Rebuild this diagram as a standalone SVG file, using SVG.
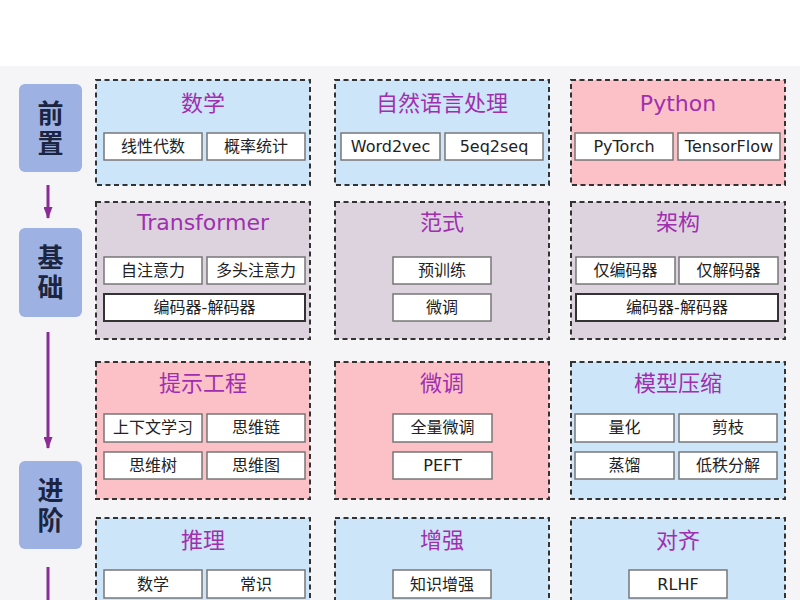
<svg xmlns="http://www.w3.org/2000/svg" width="800" height="600" viewBox="0 0 800 600">
<defs>
<style>
.card{stroke:#333;stroke-width:2;stroke-dasharray:5 3.5}
.blue{fill:#cde5f8}
.pink{fill:#fbc1c7}
.mauve{fill:#ddd3de}
.stage{fill:#9db2e2}
.st{font-family:"Noto Sans CJK SC",sans-serif;font-weight:bold;font-size:26px;fill:#1b2440;text-anchor:middle;writing-mode:vertical-rl;letter-spacing:4px}
.title{font-family:"DejaVu Sans","Noto Sans CJK SC",sans-serif;font-size:22px;fill:#a02fb0;text-anchor:middle}
.item{fill:#fff;stroke:#777;stroke-width:1.5}
.item2{fill:#fff;stroke:#333;stroke-width:2}
.it{font-family:"DejaVu Sans","Noto Sans CJK SC",sans-serif;font-size:16px;fill:#222;text-anchor:middle}
.arr{stroke:#8a2c95;stroke-width:3;fill:none}
</style>
<marker id="ah" viewBox="0 0 12 9" refX="11" refY="4.5" markerWidth="12" markerHeight="9" markerUnits="userSpaceOnUse" orient="auto">
<path d="M0,0 L12,4.5 L0,9 z" fill="#8a2c95"/>
</marker>
</defs>
<rect x="0" y="0" width="800" height="600" fill="#ffffff"/>
<rect x="0" y="66" width="800" height="534" fill="#f5f5f7"/>

<g id="connectors">
<line class="arr" x1="48" y1="185" x2="48" y2="218" marker-end="url(#ah)"/>
<line class="arr" x1="48" y1="332" x2="48" y2="448" marker-end="url(#ah)"/>
<line class="arr" x1="48" y1="567" x2="48" y2="605"/>
</g>

<g id="stage-qianzhi">
<rect class="stage" x="19" y="84" width="63" height="88" rx="6"/>
<text class="st" x="50.5" y="130">前置</text>
</g>
<g id="stage-jichu">
<rect class="stage" x="19" y="228" width="63" height="89" rx="6"/>
<text class="st" x="50.5" y="274">基础</text>
</g>
<g id="stage-jinjie">
<rect class="stage" x="19" y="461" width="63" height="88" rx="6"/>
<text class="st" x="50.5" y="507">进阶</text>
</g>

<!-- Row 1 -->
<g id="card-math">
<rect class="card blue" x="96" y="80" width="214" height="105"/>
<text class="title" x="203" y="111">数学</text>
<rect class="item" x="104" y="133" width="98" height="27"/>
<text class="it" x="153" y="152">线性代数</text>
<rect class="item" x="207" y="133" width="98" height="27"/>
<text class="it" x="256" y="152">概率统计</text>
</g>
<g id="card-nlp">
<rect class="card blue" x="335" y="80" width="214" height="105"/>
<text class="title" x="442" y="111">自然语言处理</text>
<rect class="item" x="341" y="133" width="99" height="27"/>
<text class="it" x="390.5" y="152">Word2vec</text>
<rect class="item" x="445" y="133" width="98" height="27"/>
<text class="it" x="494" y="152">5eq2seq</text>
</g>
<g id="card-python">
<rect class="card pink" x="571" y="80" width="214" height="105"/>
<text class="title" x="678" y="111">Python</text>
<rect class="item" x="575" y="133" width="98" height="27"/>
<text class="it" x="624" y="152">PyTorch</text>
<rect class="item" x="678" y="133" width="102" height="27"/>
<text class="it" x="729" y="152">TensorFlow</text>
</g>

<!-- Row 2 -->
<g id="card-transformer">
<rect class="card mauve" x="96" y="202" width="214" height="137"/>
<text class="title" x="203" y="230">Transformer</text>
<rect class="item" x="104" y="257" width="98" height="27"/>
<text class="it" x="153" y="276">自注意力</text>
<rect class="item" x="207" y="257" width="98" height="27"/>
<text class="it" x="256" y="276">多头注意力</text>
<rect class="item2" x="104" y="294" width="201" height="27"/>
<text class="it" x="204.5" y="313">编码器-解码器</text>
</g>
<g id="card-paradigm">
<rect class="card mauve" x="335" y="202" width="214" height="137"/>
<text class="title" x="442" y="230">范式</text>
<rect class="item" x="393" y="257" width="98" height="27"/>
<text class="it" x="442" y="276">预训练</text>
<rect class="item" x="393" y="294" width="98" height="27"/>
<text class="it" x="442" y="313">微调</text>
</g>
<g id="card-arch">
<rect class="card mauve" x="571" y="202" width="214" height="137"/>
<text class="title" x="678" y="230">架构</text>
<rect class="item" x="576" y="257" width="99" height="27"/>
<text class="it" x="625.5" y="276">仅编码器</text>
<rect class="item" x="679" y="257" width="99" height="27"/>
<text class="it" x="728.5" y="276">仅解码器</text>
<rect class="item2" x="576" y="294" width="202" height="27"/>
<text class="it" x="677" y="313">编码器-解码器</text>
</g>

<!-- Row 3 -->
<g id="card-prompt">
<rect class="card pink" x="96" y="362" width="214" height="137"/>
<text class="title" x="203" y="391">提示工程</text>
<rect class="item" x="104" y="414" width="98" height="28"/>
<text class="it" x="153" y="433">上下文学习</text>
<rect class="item" x="207" y="414" width="98" height="28"/>
<text class="it" x="256" y="433">思维链</text>
<rect class="item" x="104" y="452" width="98" height="27"/>
<text class="it" x="153" y="471">思维树</text>
<rect class="item" x="207" y="452" width="98" height="27"/>
<text class="it" x="256" y="471">思维图</text>
</g>
<g id="card-finetune">
<rect class="card pink" x="335" y="362" width="214" height="137"/>
<text class="title" x="442" y="391">微调</text>
<rect class="item" x="393" y="414" width="99" height="28"/>
<text class="it" x="442.5" y="433">全量微调</text>
<rect class="item" x="393" y="452" width="99" height="27"/>
<text class="it" x="442.5" y="471">PEFT</text>
</g>
<g id="card-compress">
<rect class="card blue" x="571" y="362" width="214" height="137"/>
<text class="title" x="678" y="391">模型压缩</text>
<rect class="item" x="575" y="414" width="99" height="28"/>
<text class="it" x="624.5" y="433">量化</text>
<rect class="item" x="679" y="414" width="98" height="28"/>
<text class="it" x="728" y="433">剪枝</text>
<rect class="item" x="575" y="452" width="99" height="27"/>
<text class="it" x="624.5" y="471">蒸馏</text>
<rect class="item" x="679" y="452" width="98" height="27"/>
<text class="it" x="728" y="471">低秩分解</text>
</g>

<!-- Row 4 -->
<g id="card-reasoning">
<rect class="card blue" x="96" y="518" width="214" height="100"/>
<text class="title" x="203" y="548">推理</text>
<rect class="item" x="104" y="570" width="98" height="28"/>
<text class="it" x="153" y="590">数学</text>
<rect class="item" x="207" y="570" width="98" height="28"/>
<text class="it" x="256" y="590">常识</text>
</g>
<g id="card-augment">
<rect class="card blue" x="335" y="518" width="214" height="100"/>
<text class="title" x="442" y="548">增强</text>
<rect class="item" x="393" y="570" width="98" height="28"/>
<text class="it" x="442" y="590">知识增强</text>
</g>
<g id="card-align">
<rect class="card blue" x="571" y="518" width="214" height="100"/>
<text class="title" x="678" y="548">对齐</text>
<rect class="item" x="629" y="570" width="98" height="28"/>
<text class="it" x="678" y="590">RLHF</text>
</g>
</svg>
